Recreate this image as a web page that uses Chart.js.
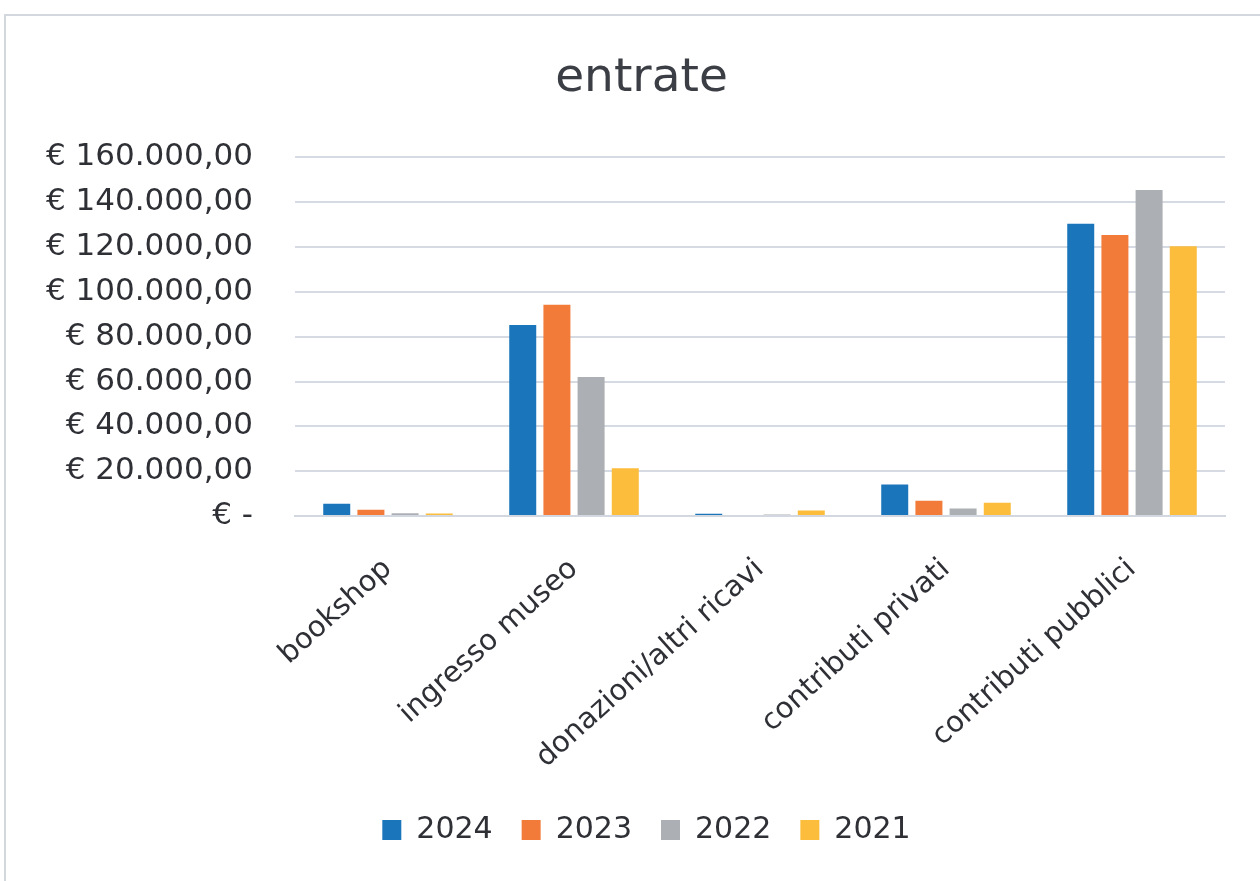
<!DOCTYPE html>
<html lang="it">
<head>
<meta charset="utf-8">
<title>entrate</title>
<script src="https://cdn.jsdelivr.net/npm/chart.js@4.4.1/dist/chart.umd.min.js"></script>
<style>
    html, body { margin: 0; padding: 0; background: #ffffff; }
    #wrap { position: relative; width: 1260px; height: 881px; }
</style>
</head>
<body>
<div id="wrap"><canvas id="entrateChart"></canvas></div>
<script>
// Voci di entrata e importi per anno
const categorie = ['bookshop', 'ingresso museo', 'donazioni/altri ricavi', 'contributi privati', 'contributi pubblici'];
const anni = ['2024', '2023', '2022', '2021'];
const entrate2024 = [5500, 85200, 1000, 14000, 130400];
const entrate2023 = [2800, 94200, 0, 6800, 125400];
const entrate2022 = [1200, 62000, 700, 3300, 145500];
const entrate2021 = [1100, 21300, 2400, 5900, 120400];
const tickValori = [0, 20000, 40000, 60000, 80000, 100000, 120000, 140000, 160000];

const colori = ['#1b75bb', '#f27b3a', '#acafb3', '#fcbd3c'];
const FONT = "'DejaVu Sans', sans-serif";

// formato euro all'italiana: € 160.000,00 / € -
function formatoEuro(v) {
    if (v === 0) return '€ -';
    const intero = Math.round(v).toString().replace(/\B(?=(\d{3})+(?!\d))/g, '.');
    return '€ ' + intero + ',00';
}

// cornice grigia attorno al grafico
const cornice = {
    id: 'cornice',
    beforeDraw(chart) {
        const ctx = chart.ctx;
        ctx.save();
        ctx.fillStyle = '#ffffff';
        ctx.fillRect(0, 0, chart.width, chart.height);
        ctx.strokeStyle = '#d3d7de';
        ctx.lineWidth = 2;
        ctx.beginPath();
        ctx.moveTo(5, chart.height);
        ctx.lineTo(5, 15);
        ctx.lineTo(chart.width, 15);
        ctx.stroke();
        ctx.restore();
    }
};

// titolo e legenda un po' spostati a destra, come nel foglio originale
const centratura = {
    id: 'centratura',
    afterLayout(chart) {
        if (chart.titleBlock) {
            chart.titleBlock.left += 29;
            chart.titleBlock.right += 29;
        }
        if (chart.legend) {
            chart.legend.left += 34;
            chart.legend.right += 34;
        }
    }
};

const serie = [entrate2024, entrate2023, entrate2022, entrate2021];

new Chart(document.getElementById('entrateChart'), {
    type: 'bar',
    data: {
        labels: categorie,
        datasets: anni.map((anno, i) => ({
            label: anno,
            data: serie[i],
            backgroundColor: colori[i],
            borderWidth: 0,
            categoryPercentage: 0.735,
            barPercentage: 0.79
        }))
    },
    options: {
        responsive: true,
        maintainAspectRatio: false,
        animation: false,
        devicePixelRatio: 1,
        layout: {
            padding: { top: 51, right: 35, bottom: 26, left: 0 }
        },
        plugins: {
            title: {
                display: true,
                text: 'entrate',
                color: '#3b3e44',
                font: { family: FONT, size: 47, weight: 'normal' },
                padding: { top: 0, bottom: 50 }
            },
            legend: {
                position: 'bottom',
                labels: {
                    color: '#2e3036',
                    font: { family: FONT, size: 30 },
                    boxWidth: 19,
                    boxHeight: 20,
                    padding: 29
                }
            },
            tooltip: { enabled: false }
        },
        scales: {
            x: {
                grid: { display: false, drawTicks: false },
                border: { color: '#d3d8e0', width: 2 },
                ticks: {
                    color: '#2e3036',
                    font: { family: FONT, size: 29 },
                    minRotation: 42,
                    maxRotation: 42,
                    padding: 36
                },
                afterFit(scale) { scale.height = 270; }
            },
            y: {
                min: 0,
                max: 160000,
                afterBuildTicks(scale) {
                    scale.ticks = tickValori.map(v => ({ value: v }));
                },
                grid: { color: '#d6dbe3', lineWidth: 2, drawTicks: false },
                border: { display: false },
                ticks: {
                    color: '#2e3036',
                    font: { family: FONT, size: 31 },
                    padding: 42,
                    callback: v => formatoEuro(v)
                },
                afterFit(scale) { scale.width = 295; }
            }
        }
    },
    plugins: [cornice, centratura]
});
</script>
</body>
</html>
